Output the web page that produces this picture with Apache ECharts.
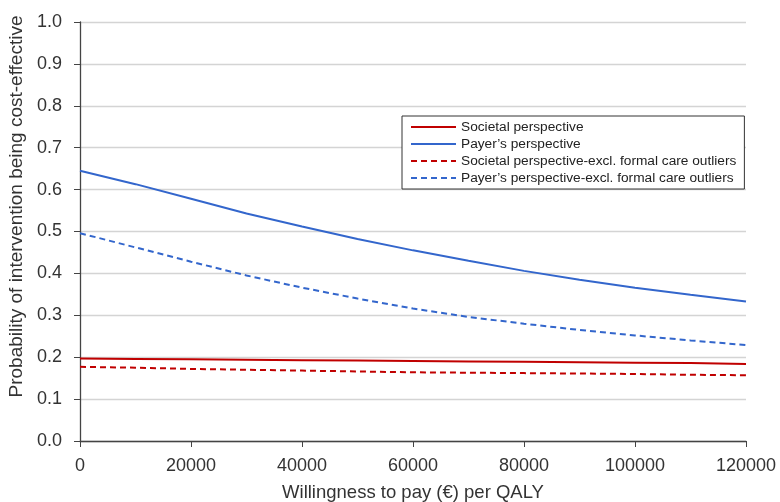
<!DOCTYPE html>
<html><head><meta charset="utf-8">
<script src="https://cdn.jsdelivr.net/npm/echarts@6/dist/echarts.min.js"></script>
<style>html,body{margin:0;padding:0;background:#fff}#c{width:780px;height:502px}</style>
</head><body><div id="c"></div>
<script>
const wtp = [0,10000,20000,30000,40000,50000,60000,70000,80000,90000,100000,110000,120000];
const societal = [0.197,0.196,0.195,0.194,0.193,0.192,0.191,0.190,0.189,0.188,0.187,0.186,0.184];
const payer = [0.645,0.613,0.578,0.543,0.512,0.482,0.455,0.430,0.406,0.385,0.366,0.349,0.333];
const societalExcl = [0.177,0.175,0.172,0.170,0.168,0.166,0.164,0.163,0.162,0.161,0.160,0.158,0.157];
const payerExcl = [0.496,0.462,0.428,0.395,0.366,0.340,0.316,0.296,0.280,0.265,0.252,0.240,0.229];
const names = ['Societal perspective','Payer\u2019s perspective','Societal perspective-excl. formal care outliers','Payer\u2019s perspective-excl. formal care outliers'];
const RED = '#c00000', BLUE = '#3366cc';
const font = 'Liberation Sans, Arial, Helvetica, sans-serif';
function mk(name, vals, color, type){
  return {name, type:'line', data: wtp.map((x,i)=>[x, vals[i]]), symbol:'none', smooth:false,
    lineStyle:{color, width:2, type: type==='dashed'?[6,4]:'solid'}, itemStyle:{color}};
}
const chart = echarts.init(document.getElementById('c'));
chart.setOption({
  animation:false,
  textStyle:{fontFamily:font},
  grid:{left:80,right:34,top:22,bottom:61, containLabel:false, outerBoundsMode:'none'},
  legend:{orient:'vertical', left:402, top:116, padding:[4,8,4,8], itemGap:3,
    itemWidth:45, itemHeight:14, borderColor:'#333', borderWidth:1, borderRadius:0, backgroundColor:'#fff',
    itemStyle:{opacity:0},
    textStyle:{fontSize:13.7, color:'#222', fontFamily:font}, data:names},
  xAxis:{type:'value', min:0, max:120000, interval:20000,
    name:'Willingness to pay (\u20ac) per QALY', nameLocation:'middle', nameGap:42,
    nameTextStyle:{fontSize:18.5, color:'#333', fontFamily:font},
    axisLine:{lineStyle:{color:'#444', width:1.3}}, axisTick:{show:true, length:6, lineStyle:{color:'#444'}},
    axisLabel:{fontSize:18, color:'#333', margin:16, fontFamily:font, formatter:v=>String(v)}, splitLine:{show:false}},
  yAxis:{type:'value', min:0, max:1, interval:0.1,
    name:'Probability of intervention being cost-effective', nameLocation:'middle', nameGap:47,
    nameTextStyle:{fontSize:19, color:'#333', fontFamily:font, padding:[0,0,0,50]},
    axisLine:{show:true, lineStyle:{color:'#444', width:1.3}}, axisTick:{show:true, length:6, lineStyle:{color:'#444'}},
    axisLabel:{fontSize:18, color:'#333', margin:18, formatter:v=>v.toFixed(1), fontFamily:font},
    splitLine:{show:true, lineStyle:{color:'#d4d4d4', width:1.3}}},
  series:[mk(names[0],societal,RED,'solid'), mk(names[1],payer,BLUE,'solid'),
    mk(names[2],societalExcl,RED,'dashed'), mk(names[3],payerExcl,BLUE,'dashed')]
});
</script></body></html>
